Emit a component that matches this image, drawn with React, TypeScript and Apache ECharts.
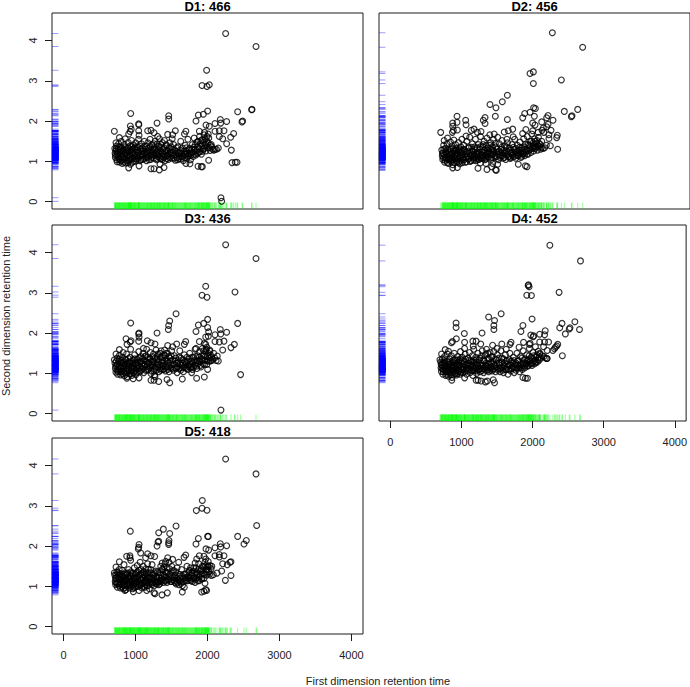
import React, { useEffect, useRef } from "react";
import * as echarts from "echarts";

const panelTitles = ["D1: 466", "D2: 456", "D3: 436", "D4: 452", "D5: 418"];
const xTickValues = [0, 1000, 2000, 3000, 4000];
const yTickValues = [0, 1, 2, 3, 4];
const X_MIN = -160, X_MAX = 4160, Y_MIN = -0.18, Y_MAX = 4.68;

const d1Outer = [[2252,4.17],[2674,3.85],[1988,3.26],[1924,2.88],[1993,2.86],[2025,2.9],[2002,2.25],[933,2.19],[2419,2.23],[2613,2.28],[2618,2.29],[1461,2.13],[1461,2.05],[1873,2.15],[1942,2.17],[1840,2],[1299,1.95],[1044,1.93],[1046,1.91],[928,1.88],[706,1.75],[2488,2],[2479,1.98],[2266,1.99],[2178,2.04],[2183,1.95],[2104,1.94],[1979,1.9],[2025,1.87],[2104,1.75],[2164,1.76],[2229,1.76],[2164,1.62],[2211,1.56],[2322,1.6],[2363,1.69],[2266,1.44],[2331,1.28],[2340,.97],[2386,.98],[2410,.98],[2016,1.03],[1914,.87],[1928,.87],[1868,.88],[2187,.1],[2197,.01],[1049,.89],[1215,.82],[1257,.82],[1331,.79],[1396,.85],[1340,.93],[1700,.95],[1757,.94],[905,.84],[1553,1.76],[1700,1.75],[1680,1.68],[1169,1.76],[1215,1.77],[1257,1.71],[1308,1.62],[1447,1.67],[1516,1.66],[1510,1.56],[776,1.59],[729,1.46],[940,1.8],[925,1.74],[905,1.68],[1044,1.76],[1049,1.65],[1887,1.75],[1960,1.72],[2010,1.68]];
const d1Core = [[712,1.32],[716,1.2],[720,1.1],[726,1.26],[735,1.38],[740,1.04],[748,1.17],[756,1.3],[765,1.44],[772,1.08],[780,.98],[786,1.22],[795,1.35],[802,1.5],[810,1.13],[818,.95],[826,1.04],[834,1.28],[842,1.42],[850,1.18],[858,1.56],[866,.96],[874,1.09],[882,1.33],[890,1.24],[898,1.47],[906,1.02],[914,1.16],[922,1.38],[930,.93],[938,1.28],[946,1.52],[954,1.08],[962,1.2],[970,1.41],[978,1],[986,1.31],[994,1.13],[1002,1.46],[1012,1.06],[1022,1.24],[1032,1.36],[1042,1.55],[1052,1.12],[1062,1.02],[1072,1.3],[1082,1.44],[1092,1.18],[1102,1.05],[1112,1.26],[1122,1.5],[1132,1.38],[1142,1.1],[1152,1.02],[1162,1.22],[1172,1.46],[1182,1.33],[1192,1.14],[1202,1.55],[1212,1.05],[1222,1.27],[1232,1.41],[1242,1.17],[1252,1.08],[1262,1.34],[1272,1.5],[1282,1.2],[1292,1.04],[1302,1.43],[1312,1.28],[1322,1.12],[1332,1.56],[1342,1.36],[1352,1.06],[1362,1.21],[1372,1.47],[1382,1.3],[1392,1.1],[1402,1.52],[1412,1.02],[1422,1.25],[1432,1.39],[1442,1.15],[1455,1.05],[1465,1.33],[1478,1.46],[1490,1.2],[1502,1.08],[1515,1.3],[1528,1.42],[1540,1.16],[1552,1.03],[1565,1.25],[1578,1.1],[1590,1.36],[1602,1.06],[1615,1.2],[1628,1.5],[1640,1.12],[1652,1.33],[1665,1.02],[1678,1.18],[1690,1.4],[1702,1.26],[1715,1.08],[1728,1.55],[1740,1.15],[1752,1.32],[1765,1.04],[1778,1.22],[1790,1.42],[1802,1.12],[1815,1.58],[1828,1.3],[1840,1.16],[1852,1.48],[1865,1.36],[1878,1.22],[1890,1.62],[1902,1.44],[1915,1.18],[1928,1.54],[1940,1.3],[1952,1.66],[1965,1.4],[1978,1.26],[1990,1.5],[2003,1.34],[2018,1.58],[2035,1.27],[2052,1.42],[2070,1.3],[2088,1.28],[2105,1.3],[2125,1.3],[2150,1.33]];
const d1Fill = [[722,1.15],[731,1.31],[744,.99],[752,1.24],[761,1.13],[769,1.36],[777,1.05],[789,1.28],[798,1.02],[805,1.19],[813,1.33],[822,1.11],[829,1.25],[837,.98],[846,1.09],[853,1.36],[861,1.21],[869,1.03],[877,1.27],[885,1.15],[893,.97],[901,1.33],[909,1.08],[917,1.24],[925,1.04],[933,1.13],[941,1.37],[949,1.22],[957,.98],[965,1.31],[973,1.15],[981,1.07],[989,1.23],[997,1.36],[1006,1.01],[1016,1.15],[1026,1.29],[1036,1.08],[1046,1.21],[1056,1.38],[1066,1.14],[1076,1.05],[1086,1.25],[1096,1.33],[1106,1.16],[1116,1.07],[1126,1.22],[1136,1.3],[1146,1.18],[1156,1.38],[1166,1.1],[1176,1.27],[1186,1.04],[1196,1.22],[1206,1.37],[1216,1.16],[1226,1.1],[1236,1.3],[1246,1.23],[1256,1.44],[1266,1.14],[1276,1.29],[1286,1.07],[1296,1.24],[1306,1.16],[1316,1.37],[1326,1.2],[1336,1.09],[1346,1.26],[1356,1.42],[1366,1.13],[1376,1.05],[1386,1.19],[1396,1.34],[1406,1.24],[1416,1.13],[1426,1.42],[1436,1.07],[1446,1.27],[1458,1.18],[1470,1.1],[1482,1.24],[1494,1.36],[1506,1.15],[1518,1.22],[1532,1.08],[1545,1.28],[1558,1.17],[1570,1.34],[1582,1.04],[1595,1.2],[1608,1.13],[1620,1.28],[1632,1.06],[1645,1.2],[1658,1.13],[1670,1.25],[1682,1.09],[1695,1.18],[1708,1.34],[1720,1.2],[1732,1.12],[1745,1.28],[1758,1.2],[1770,1.15],[1782,1.3],[1795,1.22],[1808,1.35],[1820,1.18],[1832,1.42],[1845,1.27],[1858,1.2],[1870,1.5],[1883,1.32],[1895,1.24],[1908,1.52],[1920,1.38],[1932,1.25],[1945,1.47],[1958,1.33],[1970,1.55],[1983,1.42],[1995,1.62],[2008,1.46],[2022,1.34],[2040,1.4],[2060,1.36]];

const d2Outer = [[2248,4.19],[2669,3.83],[1984,3.22],[1938,3.18],[2373,3.02],[1984,2.93],[1623,2.64],[1553,2.48],[1382,2.41],[1465,2.33],[1456,2.12],[1623,2.04],[1313,2.09],[1289,2.02],[1313,1.94],[1864,2.19],[1836,2.08],[1938,2.22],[1988,2.33],[2012,2.31],[1998,2.12],[2414,2.24],[2600,2.29],[2512,2.11],[2521,2.13],[924,2.12],[924,1.97],[864,1.95],[864,1.87],[1044,2.02],[1049,1.91],[928,1.78],[873,1.77],[859,1.72],[697,1.72],[2188,2.14],[2169,2.08],[2257,2.02],[2100,1.98],[1975,1.95],[2007,1.9],[2188,1.92],[2123,1.83],[2169,1.86],[2229,1.77],[2104,1.77],[2317,1.65],[2308,1.59],[2201,1.57],[2322,1.3],[2220,1.39],[1775,.93],[1873,.89],[1896,.87],[1470,.78],[1460,.79],[1405,.87],[1488,.93],[1340,.8],[1215,.83],[1248,.96],[1326,.95],[1420,.95],[864,.84],[928,.85],[1697,1.8],[1636,1.76],[1580,1.73],[1616,1.55],[1704,1.61],[1160,1.8],[1257,1.74],[1206,1.72],[1122,1.77],[1049,1.63],[1835,1.69],[1880,1.79],[1975,1.76],[2050,1.72],[2130,1.72],[2200,1.66]];
const d2Core = [[712,1.28],[718,1.14],[725,1.05],[730,1.2],[738,1.4],[745,1.52],[752,.98],[760,1.1],[768,1.33],[776,1.22],[785,1.44],[792,1.58],[800,1.06],[808,.95],[816,1.18],[824,1.3],[832,1.48],[840,1.02],[848,1.12],[856,1.38],[864,.92],[872,1.25],[880,1.53],[888,1.08],[896,1.16],[904,1.42],[912,1.32],[920,.98],[928,1.2],[936,1.06],[944,1.47],[952,1.28],[960,.94],[968,1.12],[976,1.36],[984,1.22],[992,1.55],[1000,1.04],[1010,1.16],[1020,1.4],[1030,1.28],[1040,.98],[1050,1.1],[1060,1.5],[1070,1.24],[1080,1.06],[1090,1.34],[1100,1.6],[1110,1.15],[1120,1.02],[1130,1.27],[1140,1.44],[1150,1.08],[1160,1.18],[1170,1.36],[1180,1.55],[1190,1.02],[1200,1.22],[1210,1.12],[1220,1.42],[1230,1.05],[1240,1.3],[1250,1.62],[1260,1.16],[1270,1.08],[1280,1.36],[1290,1.24],[1300,1.5],[1310,1.04],[1320,1.14],[1330,1.4],[1340,1.58],[1350,1.22],[1360,1.1],[1370,1.32],[1380,1.66],[1390,1.46],[1400,1.05],[1410,1.18],[1420,1.28],[1430,1.54],[1440,1.68],[1450,1.1],[1462,1.36],[1475,1.22],[1488,1.6],[1500,1.04],[1512,1.44],[1525,1.15],[1538,1.3],[1550,1.52],[1562,1.08],[1575,1.2],[1588,1.38],[1600,1.05],[1612,1.26],[1625,1.46],[1638,1.12],[1650,1.33],[1662,1.07],[1675,1.2],[1688,1.42],[1700,1.12],[1712,1.3],[1725,1.55],[1738,1.08],[1750,1.22],[1762,1.4],[1775,1.14],[1788,1.28],[1800,1.48],[1812,1.1],[1825,1.34],[1838,1.2],[1850,1.56],[1862,1.14],[1875,1.42],[1888,1.26],[1900,1.62],[1912,1.18],[1925,1.34],[1938,1.5],[1950,1.22],[1962,1.68],[1975,1.38],[1988,1.26],[2000,1.56],[2012,1.32],[2025,1.44],[2040,1.28],[2055,1.6],[2070,1.36],[2085,1.3],[2100,1.5],[2120,1.32],[2140,1.34],[2165,1.4]];
const d2Fill = [[721,1.21],[733,1.09],[741,1.3],[749,1.16],[757,1.03],[765,1.24],[773,1.08],[781,1.17],[789,.97],[797,1.27],[805,1.13],[813,1.05],[821,1.22],[829,1.09],[837,1.31],[845,.99],[853,1.18],[861,1.05],[869,1.33],[877,1.12],[885,.97],[893,1.26],[901,1.07],[909,1.17],[917,1.28],[925,1.02],[933,1.13],[941,1.24],[949,.98],[957,1.09],[965,1.31],[973,1.03],[981,1.16],[989,1.26],[997,.97],[1006,1.1],[1016,1.3],[1026,1.05],[1036,1.18],[1046,1.24],[1056,.99],[1066,1.13],[1076,1.34],[1086,1.07],[1096,1.2],[1106,1],[1116,1.11],[1126,1.35],[1136,1.17],[1146,1.25],[1156,1.03],[1166,1.12],[1176,1.28],[1186,1.08],[1196,1.17],[1206,1.33],[1216,1.05],[1226,1.2],[1236,1.12],[1246,1.36],[1256,1.07],[1266,1.24],[1276,1.15],[1286,1.42],[1296,1.1],[1306,1.28],[1316,1.2],[1326,1.06],[1336,1.17],[1346,1.33],[1356,1.12],[1366,1.24],[1376,1.4],[1386,1.18],[1396,1.3],[1406,1.1],[1416,1.36],[1426,1.18],[1436,1.26],[1446,1.14],[1458,1.45],[1470,1.12],[1482,1.3],[1494,1.18],[1506,1.26],[1520,1.1],[1532,1.22],[1545,1.35],[1558,1.14],[1570,1.28],[1582,1.1],[1595,1.2],[1608,1.36],[1620,1.16],[1632,1.24],[1645,1.12],[1658,1.28],[1670,1.1],[1682,1.22],[1695,1.16],[1708,1.35],[1720,1.12],[1732,1.24],[1745,1.32],[1758,1.15],[1770,1.26],[1782,1.18],[1795,1.35],[1808,1.2],[1820,1.13],[1832,1.28],[1845,1.18],[1858,1.36],[1870,1.22],[1883,1.3],[1895,1.18],[1908,1.42],[1920,1.27],[1932,1.4],[1945,1.3],[1958,1.5],[1970,1.32],[1982,1.46],[1995,1.35],[2008,1.5],[2020,1.36],[2035,1.52],[2050,1.38],[2065,1.45],[2080,1.42],[2095,1.34]];

const d3Outer = [[2252,4.19],[2674,3.85],[1975,3.16],[2382,3.02],[1924,2.94],[1993,2.89],[1563,2.48],[933,2.25],[1475,2.3],[1461,2.19],[1456,2.09],[2002,2.34],[1947,2.24],[1873,2.2],[2002,2.14],[2419,2.24],[1840,2.04],[2178,2.09],[2183,1.98],[2104,1.96],[2266,2.02],[2016,2.03],[2011,1.92],[1975,1.9],[1299,2],[1049,2],[1044,1.98],[1049,1.9],[1044,1.8],[868,1.86],[938,1.81],[924,1.78],[882,1.72],[1164,1.81],[1215,1.76],[1271,1.73],[1447,1.69],[1572,1.73],[1697,1.79],[1678,1.72],[1516,1.66],[1887,1.79],[1956,1.74],[1975,1.72],[2104,1.79],[2164,1.78],[2229,1.8],[2373,1.72],[2326,1.64],[2211,1.58],[2136,1.43],[2150,1.31],[2040,1.31],[2460,.97],[2002,1.1],[1956,.91],[1849,.88],[1780,1.02],[1650,.86],[1438,.85],[1475,.77],[1322,.8],[1257,.83],[1215,.83],[1049,.89],[2187,.09],[706,1.34],[729,1.48],[776,1.59],[880,.88],[968,.87],[1270,.92],[1990,1.65],[2030,1.58],[1840,1.62],[1110,1.62]];
const d3Core = [[714,1.26],[720,1.12],[728,1.03],[736,1.2],[744,1.38],[752,.98],[760,1.1],[770,1.3],[778,1.45],[786,1.16],[795,.96],[804,1.05],[812,1.26],[820,1.4],[828,1.52],[836,1.12],[844,.94],[852,1.02],[860,1.22],[868,1.34],[876,1.48],[884,.92],[892,1.1],[900,1.28],[908,1.18],[916,1],[924,1.4],[932,1.6],[940,1.06],[948,.95],[956,1.24],[964,1.34],[972,1.14],[980,1.02],[988,1.46],[996,1.26],[1005,.97],[1015,1.12],[1025,1.35],[1035,1.2],[1045,1.54],[1055,1.04],[1065,1.28],[1075,1.42],[1085,1.1],[1095,1.18],[1105,1.5],[1115,1.02],[1125,1.32],[1135,1.22],[1145,1.44],[1155,1.6],[1165,1.08],[1175,1.26],[1185,1.36],[1195,1.14],[1205,1.52],[1215,1],[1225,1.2],[1235,1.42],[1245,1.3],[1255,1.06],[1265,.96],[1275,1.16],[1285,1.58],[1295,1.34],[1305,1.24],[1315,1.48],[1325,1.04],[1335,1.12],[1345,1.4],[1355,1.56],[1365,1.28],[1375,1.1],[1385,1.2],[1395,1.46],[1405,1.58],[1415,1.06],[1425,1.34],[1435,1.16],[1445,1.5],[1455,1.26],[1465,1.04],[1478,1.38],[1490,1.14],[1502,1.56],[1515,1.22],[1528,1.08],[1540,1.44],[1552,1.3],[1565,1.12],[1578,1.02],[1590,1.26],[1602,1.4],[1615,1.56],[1628,1.08],[1640,1.2],[1652,1.34],[1665,1.04],[1678,1.46],[1690,1.14],[1702,1.28],[1715,1.4],[1728,1.1],[1740,1.22],[1752,1.5],[1765,1.16],[1778,1.3],[1790,1.1],[1802,1.4],[1815,1.2],[1828,1.6],[1840,1.26],[1852,1.12],[1865,1.44],[1878,1.3],[1890,1.54],[1902,1.2],[1915,1.36],[1928,1.62],[1940,1.24],[1952,1.46],[1965,1.32],[1978,1.56],[1990,1.22],[2003,1.42],[2018,1.3],[2035,1.55],[2052,1.4],[2070,1.35],[2085,1.5],[2100,1.38],[2120,1.32]];
const d3Fill = [[724,1.18],[733,1.3],[741,1.08],[749,1.23],[757,1.04],[765,1.18],[773,1.35],[781,1.06],[789,1.26],[798,1.12],[807,1.34],[815,.99],[823,1.17],[831,1.28],[839,1.06],[847,1.19],[855,1.35],[863,.98],[871,1.12],[879,1.24],[887,1.04],[895,1.18],[903,1.37],[911,1.08],[919,1.26],[927,.98],[935,1.15],[943,1.3],[951,1.07],[959,1.18],[967,1.02],[975,1.26],[983,1.12],[991,1.36],[1000,1.07],[1010,1.2],[1020,1.03],[1030,1.28],[1040,1.12],[1050,1.38],[1060,1.16],[1070,1.06],[1080,1.3],[1090,1.24],[1100,1.37],[1110,1.12],[1120,1.22],[1130,1.42],[1140,1.08],[1150,1.3],[1160,1.17],[1170,1.4],[1180,1.1],[1190,1.26],[1200,1.36],[1210,1.16],[1220,1.06],[1230,1.3],[1240,1.22],[1250,1.48],[1260,1.12],[1270,1.38],[1280,1.25],[1290,1.08],[1300,1.42],[1310,1.15],[1320,1.33],[1330,1.22],[1340,1.5],[1350,1.08],[1360,1.4],[1370,1.18],[1380,1.32],[1390,1.1],[1400,1.26],[1410,1.44],[1420,1.16],[1430,1.5],[1440,1.3],[1450,1.1],[1460,1.42],[1470,1.2],[1482,1.3],[1495,1.44],[1508,1.12],[1520,1.34],[1532,1.22],[1545,1.14],[1558,1.38],[1570,1.25],[1582,1.16],[1595,1.32],[1608,1.12],[1620,1.24],[1632,1.38],[1645,1.14],[1658,1.25],[1670,1.16],[1682,1.3],[1695,1.22],[1708,1.12],[1720,1.3],[1732,1.18],[1745,1.36],[1758,1.24],[1770,1.14],[1782,1.4],[1795,1.24],[1808,1.16],[1820,1.32],[1832,1.42],[1845,1.18],[1858,1.32],[1870,1.24],[1883,1.4],[1895,1.3],[1908,1.16],[1920,1.44],[1932,1.34],[1945,1.56],[1958,1.22],[1970,1.42],[1983,1.6],[1995,1.32],[2010,1.5],[2025,1.38],[2045,1.45],[2060,1.32]];

const d4Outer = [[2243,4.18],[2674,3.79],[1942,3.2],[1951,3.15],[1938,3.18],[2373,3.01],[1919,2.94],[1984,2.93],[1558,2.48],[1382,2.4],[1465,2.31],[1993,2.35],[2595,2.28],[924,2.25],[924,2.14],[1456,2.19],[1456,2.09],[1864,2.19],[1836,2.04],[2414,2.24],[2382,2.13],[2526,2.13],[2516,2.1],[2660,2.09],[2461,1.98],[1040,1.99],[1289,2],[928,1.86],[2178,2.06],[2100,1.97],[2169,1.96],[1975,1.95],[2007,1.91],[2016,1.93],[2100,1.78],[2169,1.78],[2225,1.78],[2155,1.66],[2206,1.57],[2354,1.72],[2340,1.68],[2322,1.65],[2308,1.61],[2285,1.57],[2419,1.44],[2201,1.37],[873,1.79],[859,1.76],[1044,1.77],[1160,1.8],[1206,1.8],[1271,1.73],[1438,1.7],[1567,1.73],[1697,1.77],[1683,1.72],[1873,1.77],[1965,1.75],[1956,1.72],[1864,.9],[1900,.88],[1928,.88],[1465,.77],[1447,.84],[1206,.83],[1234,.83],[1276,.81],[1336,.79],[1363,.81],[864,.83],[1044,.89],[1160,.95],[697,1.34],[720,1.48],[771,1.59],[817,1.55],[1044,1.62],[1165,1.68],[1500,1.62],[1630,1.6],[1810,1.65],[2040,1.66],[2100,1.5]];
const d4Core = [[708,1.28],[712,1.14],[718,1.05],[724,1.2],[730,1.36],[738,.98],[746,1.1],[754,1.26],[762,1.42],[770,1.18],[778,.95],[786,1.04],[794,1.3],[802,1.48],[810,1.12],[818,.93],[826,1.22],[834,1.36],[842,1.02],[850,1.16],[858,1.44],[866,.9],[874,1.08],[882,1.28],[890,1.2],[898,1.5],[906,1],[914,1.34],[922,1.14],[930,.96],[938,1.24],[946,1.42],[954,1.05],[962,1.18],[970,1.32],[978,.98],[986,1.54],[994,1.1],[1002,1.26],[1012,1.4],[1022,1.02],[1032,1.16],[1042,1.3],[1052,1.48],[1062,1.08],[1072,.98],[1082,1.22],[1092,1.38],[1102,1.12],[1112,1.52],[1122,1.02],[1132,1.3],[1142,1.2],[1152,1.44],[1162,1.06],[1172,1.6],[1182,1.28],[1192,1.14],[1202,1.4],[1212,1],[1222,1.22],[1232,1.5],[1242,1.1],[1252,1.34],[1262,1.04],[1272,1.2],[1282,1.44],[1292,1.56],[1302,1.12],[1312,1.02],[1322,1.3],[1332,1.2],[1342,1.48],[1352,1.6],[1362,1.08],[1372,1.36],[1382,1.04],[1392,1.24],[1402,1.52],[1412,1.14],[1422,1.4],[1432,1.06],[1442,1.3],[1455,1.54],[1468,1.2],[1480,1.04],[1492,1.34],[1505,1.46],[1518,1.12],[1530,1.26],[1542,1.04],[1555,1.56],[1568,1.38],[1580,1.14],[1592,1.02],[1605,1.26],[1618,1.46],[1630,1.1],[1642,1.32],[1655,.98],[1668,1.2],[1680,1.5],[1692,1.06],[1705,1.3],[1718,1.12],[1730,1.4],[1742,1.02],[1755,1.22],[1768,1.08],[1780,1.5],[1792,1.3],[1805,1.14],[1818,1.04],[1830,1.42],[1842,1.22],[1855,1.1],[1868,1.56],[1880,1.34],[1892,1.14],[1905,1.24],[1918,1.46],[1930,1.18],[1942,1.34],[1955,1.62],[1968,1.24],[1980,1.4],[1992,1.2],[2005,1.52],[2018,1.3],[2032,1.24],[2048,1.4],[2065,1.28],[2080,1.55],[2095,1.33],[2115,1.38],[2135,1.44],[2160,1.42],[2180,1.38],[2205,1.37]];
const d4Fill = [[715,1.22],[727,1.12],[735,1.27],[743,1.04],[751,1.18],[759,1.32],[767,1.06],[775,1.24],[783,1.12],[791,.98],[799,1.18],[807,1.04],[815,1.28],[823,1.08],[831,1.15],[839,.97],[847,1.26],[855,1.07],[863,1.2],[871,.97],[879,1.14],[887,1.33],[895,1.04],[903,1.18],[911,1.26],[919,.99],[927,1.08],[935,1.33],[943,1.16],[951,1],[959,1.27],[967,1.08],[975,1.2],[983,1.36],[991,1.03],[1000,1.15],[1010,1.32],[1020,1.1],[1030,1.24],[1040,1.05],[1050,1.2],[1060,1.35],[1070,1.13],[1080,1.06],[1090,1.26],[1100,1.18],[1110,1.33],[1120,1.1],[1130,1.2],[1140,1.08],[1150,1.28],[1160,1.17],[1170,1.34],[1180,1.07],[1190,1.24],[1200,1.12],[1210,1.34],[1220,1.06],[1230,1.18],[1240,1.27],[1250,1.1],[1260,1.38],[1270,1.13],[1280,1.25],[1290,1.07],[1300,1.2],[1310,1.33],[1320,1.12],[1330,1.44],[1340,1.08],[1350,1.26],[1360,1.18],[1370,1.5],[1380,1.14],[1390,1.36],[1400,1.08],[1410,1.27],[1420,1.16],[1430,1.42],[1440,1.1],[1452,1.24],[1465,1.12],[1478,1.36],[1490,1.17],[1502,1.26],[1515,1.08],[1528,1.38],[1540,1.2],[1552,1.12],[1565,1.28],[1578,1.08],[1590,1.36],[1602,1.18],[1615,1.1],[1628,1.3],[1640,1.16],[1652,1.24],[1665,1.1],[1678,1.34],[1690,1.2],[1702,1.12],[1715,1.26],[1728,1.16],[1740,1.32],[1752,1.14],[1765,1.26],[1778,1.12],[1790,1.2],[1802,1.32],[1815,1.18],[1828,1.24],[1840,1.14],[1852,1.38],[1865,1.2],[1878,1.26],[1890,1.18],[1902,1.36],[1915,1.24],[1928,1.3],[1940,1.2],[1952,1.44],[1965,1.3],[1978,1.24],[1990,1.36],[2002,1.26],[2015,1.44],[2030,1.32],[2045,1.28],[2060,1.46],[2075,1.34],[2090,1.4],[2105,1.48]];

const d5Outer = [[2252,4.16],[2674,3.79],[1928,3.13],[1845,2.88],[1924,2.94],[1993,2.89],[2683,2.51],[1563,2.5],[1387,2.42],[1322,2.33],[1475,2.31],[928,2.37],[2419,2.24],[2539,2.14],[2507,2.05],[2002,2.24],[2011,2.24],[1873,2.19],[1840,2.05],[1322,2.12],[1313,2.1],[1299,2],[1465,2.14],[1461,2.08],[1461,2.04],[1049,2.04],[1044,1.97],[1039,1.93],[1072,1.83],[2178,2.06],[2183,1.98],[2104,1.96],[2266,2.01],[1979,1.93],[2016,1.9],[877,1.75],[923,1.76],[923,1.71],[933,1.65],[1169,1.81],[1215,1.76],[1266,1.74],[1140,1.71],[1447,1.71],[1516,1.67],[1697,1.78],[1674,1.72],[1887,1.76],[1951,1.75],[1975,1.68],[2104,1.76],[2164,1.79],[2164,1.73],[2229,1.76],[2211,1.56],[2326,1.61],[2312,1.6],[2275,1.54],[1850,1.68],[1828,1.58],[2326,1.27],[2248,1.15],[2132,1.33],[2197,1.38],[2081,1.29],[2053,1.27],[1965,1.08],[1975,.92],[1951,.88],[1919,.86],[1988,.9],[1650,.86],[1442,.84],[1368,.79],[1257,.84],[1271,.82],[1155,.9],[1049,.9],[970,.87],[854,.9],[706,1.34],[729,1.48],[776,1.61],[840,1.54],[1420,1.62],[1600,1.6],[2010,1.62],[2060,1.5]];
const d5Core = [[712,1.28],[718,1.12],[724,1.04],[732,1.2],[740,1.36],[748,.98],[756,1.1],[765,1.28],[774,1.42],[782,1.16],[790,.96],[800,1.06],[808,1.26],[816,1.4],[824,1.12],[832,.94],[840,1.02],[848,1.22],[856,1.34],[864,.92],[872,1.14],[880,1.3],[888,1.04],[896,1.2],[904,1.42],[912,.96],[920,1.1],[928,1.26],[936,1.36],[944,1],[952,1.16],[960,.94],[968,1.3],[976,1.08],[984,1.46],[992,1.2],[1000,1],[1008,1.34],[1016,1.12],[1024,1.52],[1032,1.24],[1040,1],[1048,1.4],[1056,1.16],[1064,1.6],[1072,1.3],[1080,1.06],[1088,.96],[1096,1.22],[1104,1.5],[1112,1.36],[1120,1.1],[1128,.98],[1136,1.26],[1144,1.44],[1152,1.18],[1160,1.02],[1168,1.56],[1176,1.34],[1184,1.12],[1192,.94],[1200,1.24],[1210,1.42],[1220,1.08],[1230,1.54],[1240,1.2],[1250,1.3],[1260,1.02],[1270,1.12],[1280,1.38],[1290,1.06],[1300,1.22],[1310,1.12],[1320,1.04],[1330,1.34],[1340,1.14],[1350,1.5],[1360,1.2],[1370,1.58],[1380,1.42],[1390,1.1],[1400,1.26],[1410,1.56],[1420,1.14],[1430,1.34],[1440,1.46],[1452,1.18],[1465,1.6],[1478,1.3],[1490,1.12],[1502,1.5],[1515,1.22],[1528,1.4],[1540,1.14],[1552,1.28],[1565,1.06],[1578,1.46],[1590,1.16],[1602,1.04],[1615,1.3],[1628,1.12],[1640,1.42],[1652,1.02],[1665,1.2],[1678,.98],[1690,1.3],[1702,1.14],[1715,1.5],[1728,1.24],[1740,1.36],[1752,1.16],[1765,1.46],[1778,1.28],[1790,1.12],[1802,1.38],[1815,1.22],[1828,1.1],[1840,1.46],[1852,1.3],[1865,1.14],[1878,1.56],[1890,1.24],[1902,1.38],[1915,1.18],[1928,1.5],[1940,1.32],[1952,1.2],[1965,1.6],[1978,1.42],[1990,1.28],[2003,1.5],[2020,1.36],[2035,1.52],[2050,1.44]];
const d5Fill = [[721,1.2],[729,1.09],[737,1.28],[745,1.07],[753,1.19],[761,1.34],[769,1.03],[777,1.24],[785,1.08],[793,1.32],[803,1.16],[811,.99],[819,1.22],[827,1.04],[835,1.3],[843,1.12],[851,.97],[859,1.18],[867,1.27],[875,1.03],[883,1.16],[891,1.33],[899,1.08],[907,1.22],[915,1.02],[923,1.17],[931,1.05],[939,1.26],[947,1.12],[955,1.33],[963,1.04],[971,1.2],[979,.97],[987,1.14],[995,1.3],[1004,1.07],[1012,1.21],[1020,1.02],[1028,1.36],[1036,1.12],[1044,1.28],[1052,1.06],[1060,1.2],[1068,1.02],[1076,1.42],[1084,1.16],[1092,1.33],[1100,1.07],[1108,1.2],[1116,1],[1124,1.28],[1132,1.14],[1140,1.04],[1148,1.34],[1156,1.1],[1164,1.24],[1172,1.02],[1180,1.42],[1188,1.2],[1196,1.1],[1206,1.34],[1216,1.18],[1226,1.04],[1236,1.28],[1246,1.1],[1256,1.2],[1266,1.34],[1276,1.08],[1286,1.24],[1296,1.14],[1306,1.36],[1316,1.1],[1326,1.22],[1336,1.06],[1346,1.28],[1356,1.12],[1366,1.42],[1376,1.16],[1386,1.3],[1396,1.48],[1406,1.16],[1416,1.36],[1426,1.24],[1436,1.1],[1448,1.34],[1460,1.16],[1472,1.44],[1485,1.26],[1498,1.12],[1510,1.34],[1522,1.16],[1535,1.26],[1548,1.1],[1560,1.36],[1572,1.2],[1585,1.1],[1598,1.26],[1610,1.14],[1622,1.2],[1635,1.08],[1648,1.25],[1660,1.12],[1672,1.3],[1685,1.16],[1698,1.22],[1710,1.32],[1722,1.14],[1735,1.2],[1748,1.4],[1760,1.22],[1772,1.14],[1785,1.34],[1798,1.2],[1810,1.46],[1822,1.28],[1835,1.18],[1848,1.36],[1860,1.22],[1872,1.42],[1885,1.14],[1898,1.3],[1910,1.44],[1922,1.2],[1935,1.4],[1948,1.5],[1960,1.3],[1972,1.52],[1985,1.36],[1998,1.42],[2012,1.5],[2028,1.3]];

const panelOuter = [d1Outer, d2Outer, d3Outer, d4Outer, d5Outer];
const panelCore = [d1Core, d2Core, d3Core, d4Core, d5Core];
const panelFill = [d1Fill, d2Fill, d3Fill, d4Fill, d5Fill];

const FONT = '"Liberation Sans", Arial, sans-serif';
const BOX = [
  { left: 52, top: 13 },
  { left: 379, top: 13 },
  { left: 52, top: 225 },
  { left: 379, top: 225 },
  { left: 52, top: 438 },
];
const BOX_W = 311, BOX_H = 196;
const INK = "#1c1c1c";

export default function App() {
  const ref = useRef<HTMLDivElement>(null);
  useEffect(() => {
    document.body.style.margin = "0";
    const chart = echarts.init(ref.current!, null, { renderer: "svg" });
    const series: any[] = [];
    panelOuter.forEach((outer, i) => {
      const pts = [...panelCore[i], ...panelFill[i], ...outer];
      series.push({
        type: "scatter", xAxisIndex: i, yAxisIndex: i, silent: true,
        symbol: "rect", symbolSize: [6.5, 1], symbolOffset: [3.2, 0],
        itemStyle: { color: "rgba(0,0,255,0.5)" },
        data: pts.map((p) => [X_MIN, p[1]]),
      });
      series.push({
        type: "scatter", xAxisIndex: i, yAxisIndex: i, silent: true,
        symbol: "rect", symbolSize: [1, 6.5], symbolOffset: [0, -3.2],
        itemStyle: { color: "rgba(0,255,0,0.5)" },
        data: pts.map((p) => [p[0], Y_MIN]),
      });
      series.push({
        type: "scatter", xAxisIndex: i, yAxisIndex: i, silent: true,
        symbol: "circle", symbolSize: 5.8,
        itemStyle: { color: "transparent", borderColor: "#000", borderWidth: 1.2 },
        data: pts,
      });
    });
    const showX = [false, false, false, true, true];
    const showY = [true, false, true, false, true];
    chart.setOption({
      animation: false,
      title: BOX.map((b, i) => ({
        text: panelTitles[i],
        left: b.left + BOX_W / 2,
        top: b.top - 13,
        textAlign: "center",
        padding: 0,
        textStyle: { fontFamily: FONT, fontSize: 13, fontWeight: "bold", color: "#000" },
      })),
      grid: BOX.map((b) => ({
        left: b.left, top: b.top, width: BOX_W, height: BOX_H,
        show: true, borderColor: INK, borderWidth: 1, backgroundColor: "transparent",
      })),
      xAxis: BOX.map((_, i) => ({
        type: "value", gridIndex: i, min: X_MIN, max: X_MAX, splitLine: { show: false },
        axisLine: { show: false, onZero: false },
        axisTick: { show: showX[i], length: 7, lineStyle: { color: INK }, customValues: xTickValues },
        axisLabel: { show: showX[i], margin: 15, fontFamily: FONT, fontSize: 11, color: "#222", customValues: xTickValues, hideOverlap: false, formatter: (v: number) => String(v) },
      })),
      yAxis: BOX.map((_, i) => ({
        type: "value", gridIndex: i, min: Y_MIN, max: Y_MAX, splitLine: { show: false },
        axisLine: { show: false, onZero: false },
        axisTick: { show: showY[i], length: 7, lineStyle: { color: INK }, customValues: yTickValues },
        axisLabel: { show: showY[i], rotate: 90, margin: 19, fontFamily: FONT, fontSize: 11, color: "#222", align: "center", verticalAlign: "middle", customValues: yTickValues, formatter: (v: number) => String(v) },
      })),
      graphic: [
        { type: "text", x: 6, y: 316, rotation: Math.PI / 2, style: { text: "Second dimension retention time", fontFamily: FONT, fontSize: 11, fill: "#222", textAlign: "center", textVerticalAlign: "middle" } },
        { type: "text", x: 378, y: 681, style: { text: "First dimension retention time", fontFamily: FONT, fontSize: 11, fill: "#222", textAlign: "center", textVerticalAlign: "middle" } },
      ],
      series,
    });
    return () => chart.dispose();
  }, []);
  return <div ref={ref} style={{ position: "absolute", left: 0, top: 0, width: 690, height: 687 }} />;
}
